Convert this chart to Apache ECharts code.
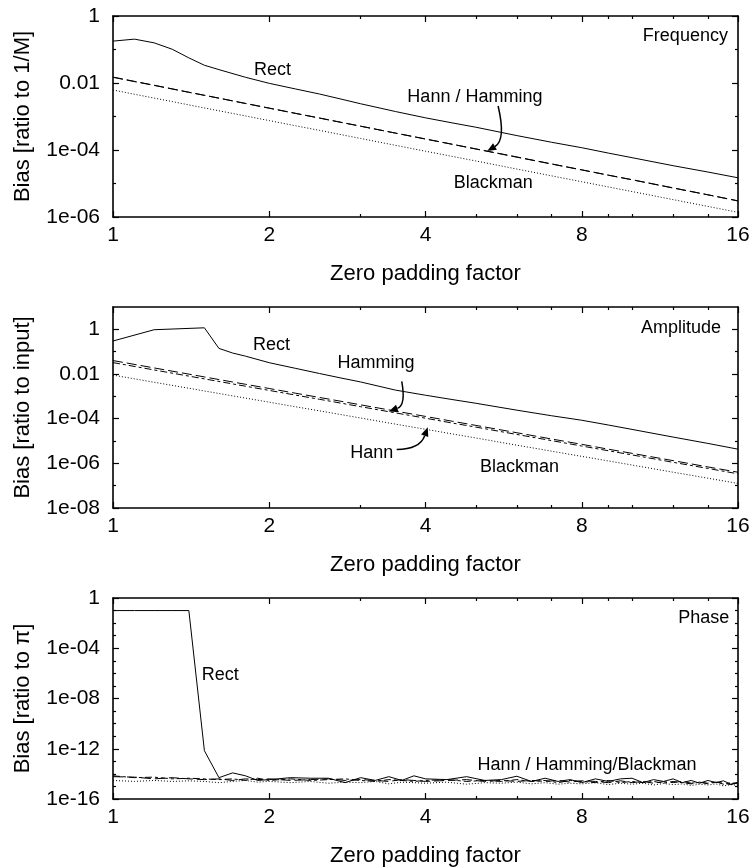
<!DOCTYPE html>
<html>
<head>
<meta charset="utf-8">
<title>Zero padding bias</title>
<script src="https://cdn.jsdelivr.net/npm/echarts@6.0.0/dist/echarts.min.js"></script>
<style>
  html, body { margin: 0; padding: 0; background: #fff; }
  #chart { width: 756px; height: 867px; }
</style>
</head>
<body>
<div id="chart"></div>
<script>
// ---- data ----
// frequency bias vs zero padding factor
var freqX = [1, 1.1, 1.2, 1.3, 1.4, 1.5, 1.6, 1.8, 2, 2.25, 2.5, 2.75, 3, 3.5, 4, 4.5, 5, 6, 7, 8, 9, 10, 12, 14, 16];
var freqRect = [0.178, 0.204, 0.158, 0.102, 0.0562, 0.0339, 0.0251, 0.0148, 0.00977, 0.00661, 0.00468, 0.00331, 0.0024, 0.00141, 0.000912, 0.000646, 0.000479, 0.000269, 0.00017, 0.000117, 8.1e-5, 5.9e-5, 3.4e-5, 2.2e-5, 1.48e-5];
var freqHann = [0.0148, 0.0110, 0.00847, 0.00662, 0.00528, 0.00428, 0.00351, 0.00244, 0.00177, 0.00123, 0.000897, 0.000668, 0.000512, 0.000319, 0.000212, 0.000148, 0.000107, 6.1e-5, 3.8e-5, 2.54e-5, 1.77e-5, 1.29e-5, 7.3e-6, 4.6e-6, 3.0e-6];
var freqHamming = [0.0150, 0.0112, 0.0086, 0.0067, 0.0053, 0.0043, 0.00354, 0.00246, 0.00178, 0.00124, 0.0009, 0.00067, 0.000515, 0.00032, 0.000214, 0.000149, 0.000108, 6.2e-5, 3.85e-5, 2.56e-5, 1.78e-5, 1.3e-5, 7.4e-6, 4.6e-6, 3.05e-6];
var freqBlackman = [0.00617, 0.00462, 0.00355, 0.00279, 0.00222, 0.0018, 0.00148, 0.00104, 0.000754, 0.000527, 0.000385, 0.000288, 0.000221, 0.000138, 9.2e-5, 6.46e-5, 4.71e-5, 2.7e-5, 1.69e-5, 1.13e-5, 7.9e-6, 5.75e-6, 3.3e-6, 2.07e-6, 1.38e-6];

// amplitude bias
var ampX = [1, 1.2, 1.5, 1.6, 1.7, 1.8, 2, 2.25, 2.5, 2.75, 3, 3.5, 4, 4.5, 5, 6, 7, 8, 9, 10, 12, 14, 16];
var ampRect = [0.30, 0.96, 1.17, 0.14, 0.087, 0.063, 0.032, 0.0178, 0.0105, 0.0066, 0.0044, 0.0019, 0.00112, 0.00072, 0.00049, 0.00024, 0.000135, 8.5e-5, 5.2e-5, 3.3e-5, 1.5e-5, 7.8e-6, 4.3e-6];
var ampHamming = [0.040, 0.0187, 0.0074, 0.00565, 0.00439, 0.00347, 0.00224, 0.00137, 0.00089, 0.00060, 0.000416, 0.000219, 0.000126, 7.7e-5, 5.0e-5, 2.34e-5, 1.23e-5, 7.1e-6, 4.3e-6, 2.8e-6, 1.32e-6, 6.9e-7, 4.0e-7];
var ampHann = [0.0324, 0.0152, 0.00605, 0.00463, 0.0036, 0.00284, 0.00184, 0.00113, 0.000736, 0.000494, 0.000344, 0.000182, 0.000105, 6.4e-5, 4.2e-5, 1.96e-5, 1.04e-5, 5.96e-6, 3.66e-6, 2.38e-6, 1.11e-6, 5.9e-7, 3.4e-7];
var ampBlackman = [0.0089, 0.00428, 0.00174, 0.00134, 0.00105, 0.000835, 0.000546, 0.00034, 0.000224, 0.000152, 0.000107, 5.7e-5, 3.35e-5, 2.08e-5, 1.37e-5, 6.5e-6, 3.5e-6, 2.05e-6, 1.28e-6, 8.4e-7, 4.0e-7, 2.16e-7, 1.26e-7];

// phase bias
var phaseX = [1, 1.1, 1.2, 1.3, 1.4, 1.5, 1.6, 1.7, 1.8, 1.9, 2, 2.2, 2.4, 2.6, 2.8, 3, 3.2, 3.4, 3.6, 3.8, 4, 4.4, 4.8, 5.2, 5.6, 6, 6.4, 6.8, 7.2, 7.6, 8, 8.5, 9, 9.5, 10, 10.5, 11, 11.5, 12, 12.5, 13, 13.5, 14, 14.5, 15, 15.5, 16];
var phaseRect = [0.1, 0.1, 0.1, 0.1, 0.1, 7e-13, 5e-15, 1.2e-14, 7e-15, 3e-15, 3.5e-15, 5e-15, 4.5e-15, 4.5e-15, 2e-15, 5e-15, 3e-15, 6e-15, 3e-15, 7e-15, 4e-15, 3.5e-15, 6e-15, 3e-15, 3.5e-15, 6.5e-15, 2.5e-15, 4.5e-15, 2.5e-15, 3.5e-15, 2e-15, 4e-15, 2.5e-15, 4e-15, 4.5e-15, 2e-15, 3.5e-15, 2.5e-15, 4e-15, 2e-15, 3e-15, 1.8e-15, 3e-15, 2e-15, 2.8e-15, 1.5e-15, 2.2e-15];
var phaseHann = [7e-15, 5e-15, 5.5e-15, 4e-15, 4.5e-15, 4e-15, 3.5e-15, 4e-15, 3e-15, 4.5e-15, 3e-15, 4e-15, 3e-15, 3.5e-15, 4e-15, 3e-15, 2.5e-15, 3.5e-15, 3e-15, 2.5e-15, 3e-15, 3.5e-15, 2.5e-15, 3e-15, 2.5e-15, 3.5e-15, 2.5e-15, 3e-15, 2e-15, 3e-15, 2.5e-15, 2e-15, 3e-15, 2e-15, 2.5e-15, 2e-15, 2.5e-15, 1.8e-15, 2.5e-15, 2e-15, 1.6e-15, 2.2e-15, 1.8e-15, 2.4e-15, 1.5e-15, 2e-15, 1.6e-15];
var phaseHamming = [6e-15, 5.5e-15, 4e-15, 5e-15, 4e-15, 3.5e-15, 4e-15, 3e-15, 4e-15, 3.5e-15, 4e-15, 3e-15, 3.5e-15, 4e-15, 3e-15, 3.5e-15, 3e-15, 2.5e-15, 3.5e-15, 3e-15, 2.5e-15, 3e-15, 3.5e-15, 2.5e-15, 3e-15, 2.5e-15, 3e-15, 2.5e-15, 3e-15, 2.2e-15, 2.8e-15, 2.5e-15, 2e-15, 2.8e-15, 2e-15, 2.5e-15, 1.8e-15, 2.4e-15, 2e-15, 2.6e-15, 1.8e-15, 2.2e-15, 1.6e-15, 2.2e-15, 1.8e-15, 1.4e-15, 2e-15];
var phaseBlackman = [3e-15, 2.5e-15, 3e-15, 2.5e-15, 2.8e-15, 2.5e-15, 2e-15, 2.5e-15, 3e-15, 2.2e-15, 2.5e-15, 2e-15, 2.5e-15, 1.8e-15, 2.2e-15, 2e-15, 2.5e-15, 1.6e-15, 2.2e-15, 2e-15, 1.8e-15, 2.2e-15, 1.5e-15, 2e-15, 1.8e-15, 2.2e-15, 1.6e-15, 2e-15, 1.5e-15, 1.8e-15, 1.6e-15, 2e-15, 1.4e-15, 1.8e-15, 1.5e-15, 1.8e-15, 1.3e-15, 1.7e-15, 1.4e-15, 1.6e-15, 1.2e-15, 1.5e-15, 1.3e-15, 1.6e-15, 1.1e-15, 1.4e-15, 1.2e-15];

// tick values
var xMajorTicks = [1, 2, 4, 8, 16];
var xMinorTicks = [3, 5, 6, 7, 9, 10, 12, 14];
var freqMajor = [1, 1e-2, 1e-4, 1e-6];
var freqMinor = [1e-1, 1e-3, 1e-5];
var ampMajor = [1, 1e-2, 1e-4, 1e-6, 1e-8];
var ampMinor = [1e-1, 1e-3, 1e-5, 1e-7];
var phaseMajor = [1, 1e-4, 1e-8, 1e-12, 1e-16];
var phaseMinor = [1e-1, 1e-2, 1e-3, 1e-5, 1e-6, 1e-7, 1e-9, 1e-10, 1e-11, 1e-13, 1e-14, 1e-15];

// ---- layout ----
var FONT = 'Liberation Sans, Arial, sans-serif';
var gridTops = [16, 307, 598];
var panels = [
  { min: 1e-6, max: 1, major: freqMajor, minor: freqMinor, name: 'Bias [ratio to 1/M]' },
  { min: 1e-8, max: 10, major: ampMajor, minor: ampMinor, name: 'Bias [ratio to input]' },
  { min: 1e-16, max: 1, major: phaseMajor, minor: phaseMinor, name: 'Bias [ratio to π]' }
];

function fmtY(v) {
  var e = Math.round(Math.log10(v));
  if (e >= -2) return String(Math.pow(10, e));
  var a = -e;
  return '1e-' + (a < 10 ? '0' + a : a);
}

function axis(dim, g, pos, ticks, len, main, p) {
  var ax = {
    type: 'log',
    gridIndex: g,
    position: pos,
    splitLine: { show: false },
    axisLine: { show: main, onZero: false, lineStyle: { color: '#000', width: 1.6 } },
    axisTick: { show: true, inside: true, length: len, customValues: ticks, lineStyle: { color: '#000', width: 1.2 } },
    axisLabel: { show: false }
  };
  if (dim === 'x') {
    ax.logBase = 2; ax.min = 1; ax.max = 16;
  } else {
    ax.min = p.min; ax.max = p.max;
  }
  return ax;
}

var grids = [], xAxes = [], yAxes = [];
gridTops.forEach(function (top, g) {
  var p = panels[g];
  grids.push({ left: 113, width: 625, top: top, height: 201, containLabel: false, outerBoundsMode: 'none' });

  var xb = axis('x', g, 'bottom', xMajorTicks, 6, true);
  xb.axisLabel = { show: true, customValues: xMajorTicks, margin: 8, color: '#000', fontSize: 21, fontFamily: FONT,
    formatter: function (v) { return String(Math.round(v)); } };
  xb.name = 'Zero padding factor';
  xb.nameLocation = 'middle';
  xb.nameGap = 46;
  xb.nameTextStyle = { color: '#000', fontSize: 22, fontFamily: FONT };
  xAxes.push(xb,
    axis('x', g, 'bottom', xMinorTicks, 3, false),
    axis('x', g, 'top', xMajorTicks, 6, true),
    axis('x', g, 'top', xMinorTicks, 3, false));

  var yl = axis('y', g, 'left', p.major, 6, true, p);
  yl.axisLabel = { show: true, customValues: p.major, margin: 13, color: '#000', fontSize: 21, fontFamily: FONT, formatter: fmtY };
  yl.name = p.name;
  yl.nameLocation = 'middle';
  yl.nameRotate = 90;
  yl.nameGap = 79;
  yl.nameTextStyle = { color: '#000', fontSize: 22, fontFamily: FONT };
  yAxes.push(yl,
    axis('y', g, 'left', p.minor, 3, false, p),
    axis('y', g, 'right', p.major, 6, true, p),
    axis('y', g, 'right', p.minor, 3, false, p));
});

var SOLID = 'solid', DASH = [10, 4], DASH2 = [7, 3, 3, 3], DOT = [1, 2];

function line(g, xs, ys, dash) {
  return {
    type: 'line',
    xAxisIndex: 4 * g,
    yAxisIndex: 4 * g,
    data: xs.map(function (x, i) { return [x, ys[i]]; }),
    symbol: 'none',
    silent: true,
    lineStyle: { color: '#000', width: 1, type: dash }
  };
}

var series = [
  line(0, freqX, freqBlackman, DOT),
  line(0, freqX, freqHamming, DASH),
  line(0, freqX, freqHann, DASH),
  line(0, freqX, freqRect, SOLID),
  line(1, ampX, ampBlackman, DOT),
  line(1, ampX, ampHann, DASH2),
  line(1, ampX, ampHamming, DASH),
  line(1, ampX, ampRect, SOLID),
  line(2, phaseX, phaseBlackman, DOT),
  line(2, phaseX, phaseHann, DASH2),
  line(2, phaseX, phaseHamming, DASH),
  line(2, phaseX, phaseRect, SOLID)
];

var chart = echarts.init(document.getElementById('chart'));
chart.setOption({
  animation: false,
  backgroundColor: '#fff',
  grid: grids,
  xAxis: xAxes,
  yAxis: yAxes,
  series: series
});

// ---- annotations, anchored in data coordinates ----
var labels = [
  { g: 0, text: 'Rect', at: [2.03, 0.0245] },
  { g: 0, text: 'Hann / Hamming', at: [4.98, 0.0038] },
  { g: 0, text: 'Blackman', at: [5.4, 1.0e-5] },
  { g: 0, text: 'Frequency', at: [15.3, 0.25], align: 'right' },
  { g: 1, text: 'Rect', at: [2.02, 0.195] },
  { g: 1, text: 'Hamming', at: [3.21, 0.030] },
  { g: 1, text: 'Hann', at: [3.15, 3.0e-6] },
  { g: 1, text: 'Blackman', at: [6.07, 6.6e-7] },
  { g: 1, text: 'Amplitude', at: [14.84, 1.1], align: 'right' },
  { g: 2, text: 'Rect', at: [1.61, 7.4e-7] },
  { g: 2, text: 'Hann / Hamming/Blackman', at: [8.19, 5e-14] },
  { g: 2, text: 'Phase', at: [15.4, 0.024], align: 'right' }
];
var arrows = [
  { g: 0, pts: [[5.52, 2.06e-3], [5.72, 2.0e-4], [5.26, 9.3e-5]] },
  { g: 1, pts: [[3.60, 4.7e-3], [3.67, 4.0e-4], [3.40, 2.1e-4]] },
  { g: 1, pts: [[3.52, 4.2e-6], [3.90, 4.2e-6], [4.04, 4.1e-5]] }
];

function px(g, pt) {
  return chart.convertToPixel({ xAxisIndex: 4 * g, yAxisIndex: 4 * g }, pt);
}

var elements = [];
labels.forEach(function (l) {
  var p = px(l.g, l.at);
  elements.push({
    type: 'text', x: p[0], y: p[1], silent: true,
    style: { text: l.text, fill: '#000', fontSize: 18, fontFamily: FONT,
      align: l.align || 'center', verticalAlign: 'middle' }
  });
});
arrows.forEach(function (a) {
  var s = px(a.g, a.pts[0]), c = px(a.g, a.pts[1]), e = px(a.g, a.pts[2]);
  var dx = e[0] - c[0], dy = e[1] - c[1], d = Math.sqrt(dx * dx + dy * dy);
  dx /= d; dy /= d;
  var bx = e[0] - dx * 9, by = e[1] - dy * 9;
  elements.push({
    type: 'bezierCurve', silent: true,
    shape: { x1: s[0], y1: s[1], cpx1: c[0], cpy1: c[1], x2: bx, y2: by },
    style: { stroke: '#000', lineWidth: 1.5, fill: null }
  });
  elements.push({
    type: 'polygon', silent: true,
    shape: { points: [[e[0], e[1]], [bx - dy * 3.8, by + dx * 3.8], [bx + dy * 3.8, by - dx * 3.8]] },
    style: { fill: '#000' }
  });
});
chart.setOption({ graphic: elements });
</script>
</body>
</html>
